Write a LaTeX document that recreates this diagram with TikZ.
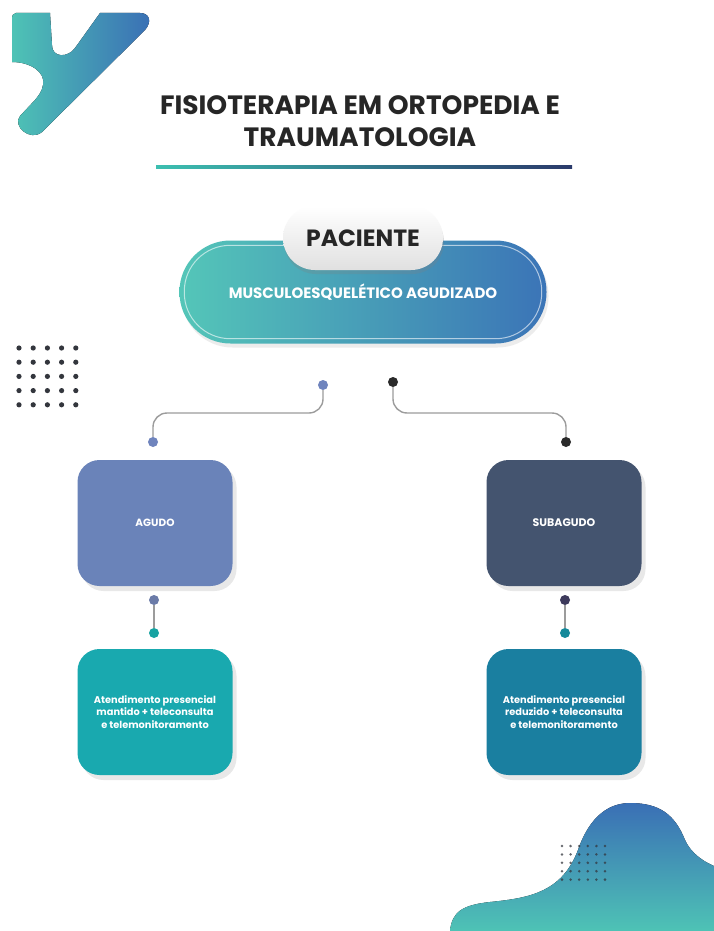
\documentclass[tikz,border=0pt]{standalone}
\usepackage{fontspec}
\setmainfont{Poppins}
\usetikzlibrary{positioning,shadows,calc}

\definecolor{logoTeal}{HTML}{4EC3B5}
\definecolor{logoBlue}{HTML}{3A6FB5}
\definecolor{titleInk}{HTML}{262626}
\definecolor{ruleTeal}{HTML}{3CBFB0}
\definecolor{ruleNavy}{HTML}{2B3A6B}
\definecolor{pillTeal}{HTML}{54C6B8}
\definecolor{pillBlue}{HTML}{3B74B7}
\definecolor{acuteBlue}{HTML}{6A83B9}
\definecolor{subNavy}{HTML}{44546F}
\definecolor{careTeal}{HTML}{19A9AF}
\definecolor{careBlue}{HTML}{1A7FA0}
\definecolor{dotBlue}{HTML}{6F84BD}
\definecolor{dotBlack}{HTML}{2A2A2A}
\definecolor{dotSlate}{HTML}{6B7BA8}
\definecolor{dotPlum}{HTML}{3D3A5C}
\definecolor{jointTeal}{HTML}{17A3A2}
\definecolor{jointBlue}{HTML}{15899A}
\definecolor{wireGray}{HTML}{9C9C9C}
\definecolor{speckGray}{HTML}{33363D}

\tikzset{
  card/.style={rounded corners=22pt, minimum width=155pt, minimum height=126pt,
    text=white, align=center,
    drop shadow={shadow xshift=4pt, shadow yshift=-5pt, opacity=.18}},
  knob/.style={circle, inner sep=0pt, minimum size=10pt},
  wire/.style={draw=wireGray, line width=1.4pt, rounded corners=14pt},
}

\begin{document}
\begin{tikzpicture}[x=1pt, y=-1pt]
    % page
    \fill[white] (0,0) rectangle (714,931);
    \useasboundingbox (0,0) rectangle (714,931);

    % logo top left
    \fill[left color=logoTeal, right color=logoBlue]
        (12,20) -- (12,62) .. controls (30,62) and (46,72) .. (43,85)
        .. controls (42,92) and (38,96) .. (35,100) -- (20,116)
        .. controls (12,126) and (30,142) .. (42,132) -- (145,30)
        .. controls (152,22) and (150,13) .. (140,13) -- (100,13)
        -- (75,48) .. controls (68,58) and (52,58) .. (52,45) -- (50,13)
        -- (16,13) .. controls (13,13) and (12,15) .. (12,20) -- cycle;

    % title
    \node[text=titleInk, align=center, font=\fontsize{26.5}{32}\selectfont\bfseries]
        (title) at (360,121) {FISIOTERAPIA EM ORTOPEDIA E\\TRAUMATOLOGIA};
    \fill[left color=ruleTeal, right color=ruleNavy] (156,165.5) rectangle (572,168.5);

    % dot grid left
    \foreach \i in {0,...,4}
        \foreach \j in {0,...,4}
            \fill[speckGray] (19+14.2*\i, 348+14.2*\j) circle (2.6);

    % main pill and its label
    \node[rounded corners=51pt, minimum width=367pt, minimum height=103pt,
        left color=pillTeal, right color=pillBlue, text=white,
        font=\fontsize{15}{18}\selectfont\bfseries,
        drop shadow={shadow xshift=2pt, shadow yshift=-4pt, opacity=.15}]
        (case) at (363,292) {\raisebox{-4pt}{MUSCULOESQUELÉTICO AGUDIZADO}};
    \draw[white, opacity=.6, line width=1pt, rounded corners=46pt]
        ($(case.south west)+(5,-5)$) rectangle ($(case.north east)+(-5,5)$);

    \node[rounded corners=32pt, minimum width=160pt, minimum height=64pt,
        top color=white, bottom color=black!12, text=titleInk,
        font=\fontsize{23.5}{26}\selectfont\bfseries,
        drop shadow={shadow xshift=1pt, shadow yshift=-4pt, opacity=.25}]
        (patient) at (363,238) {PACIENTE};

    % stages
    \node[card, fill=acuteBlue, font=\fontsize{10.5}{12}\selectfont\bfseries]
        (acute) at (155,523) {AGUDO};
    \node[card, fill=subNavy, font=\fontsize{11}{12}\selectfont\bfseries]
        (subacute) at (564,523) {SUBAGUDO};

    % care
    \node[card, fill=careTeal, font=\fontsize{9.8}{12.5}\selectfont\bfseries]
        (careL) at (155,712) {Atendimento presencial\\mantido + teleconsulta\\e telemonitoramento};
    \node[card, fill=careBlue, font=\fontsize{9.8}{12.5}\selectfont\bfseries]
        (careR) at (564,712) {Atendimento presencial\\reduzido + teleconsulta\\e telemonitoramento};

    % knobs
    \node[knob, fill=dotBlue] (topL) at (323,385) {};
    \node[knob, fill=dotBlack] (topR) at (393,382) {};
    \node[knob, fill=dotBlue] (inL) at (153,442) {};
    \node[knob, fill=dotBlack] (inR) at (566,442) {};
    \node[knob, fill=dotSlate] (outL) at (154,600) {};
    \node[knob, fill=jointTeal] (jointL) at (154,633) {};
    \node[knob, fill=dotPlum] (outR) at (565,600) {};
    \node[knob, fill=jointBlue] (jointR) at (565,633) {};

    % wires
    \draw[wire] (topL) -- ++(0,28) -| (inL);
    \draw[wire] (topR) -- ++(0,31) -| (inR);
    \draw[wire] (outL) -- (jointL);
    \draw[wire] (outR) -- (jointR);

    % blob bottom right
    \fill[top color=logoBlue, bottom color=logoTeal]
        (450,931) .. controls (452,912) and (462,905) .. (490,902)
        .. controls (530,898) and (562,892) .. (578,850)
        .. controls (590,815) and (610,803) .. (630,803)
        .. controls (660,803) and (675,815) .. (685,840)
        .. controls (692,855) and (705,862) .. (714,866)
        -- (714,931) -- cycle;
    \foreach \i in {0,...,5}
        \foreach \j in {0,...,4}
            \fill[speckGray, opacity=.75] (562+8.6*\i, 846+8.4*\j) circle (1.4);
\end{tikzpicture}
\end{document}
